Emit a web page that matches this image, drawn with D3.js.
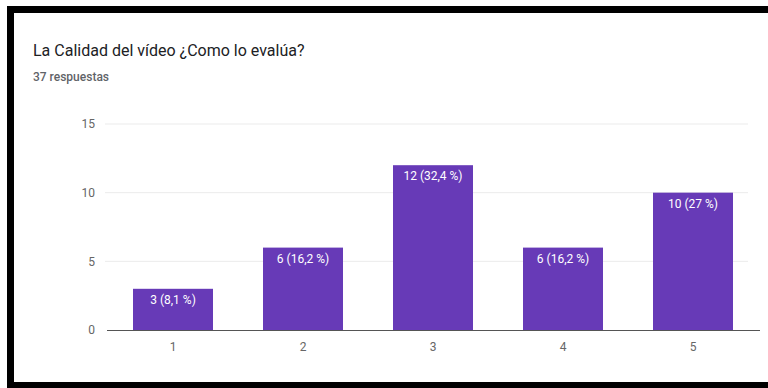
<!DOCTYPE html>
<html>
<head>
<meta charset="utf-8">
<script src="https://cdn.jsdelivr.net/npm/d3@7"></script>
<style>
  body { margin: 0; background: #fff; }
  svg text { font-family: Roboto, "Noto Sans", sans-serif; }
</style>
</head>
<body>
<script>
//Data
var categories = ["1", "2", "3", "4", "5"];
var counts = [3, 6, 12, 6, 10];
var labels = ["3 (8,1 %)", "6 (16,2 %)", "12 (32,4 %)", "6 (16,2 %)", "10 (27 %)"];
var yTicks = [0, 5, 10, 15];

var W = 768, H = 388;

var svg = d3.select("body")
    .append("svg")
    .attr("width", W)
    .attr("height", H);

//black frame (left, top, bottom)
svg.append("rect").attr("x", 7).attr("y", 6).attr("width", W - 7).attr("height", 7).attr("fill", "#000");
svg.append("rect").attr("x", 7).attr("y", 6).attr("width", 7).attr("height", H - 6).attr("fill", "#000");
svg.append("rect").attr("x", 7).attr("y", 382).attr("width", W - 7).attr("height", 6).attr("fill", "#000");

//Title + subtitle
svg.append("text")
    .attr("x", 33)
    .attr("y", 56)
    .style("font-size", "16px")
    .style("fill", "#202124")
    .text("La Calidad del vídeo ¿Como lo evalúa?");
svg.append("text")
    .attr("x", 33)
    .attr("y", 81)
    .style("font-size", "12px")
    .style("font-weight", "500")
    .style("fill", "#5f6368")
    .text("37 respuestas");

//Scales
var xScale = d3.scaleBand()
    .domain(categories)
    .range([108, 758])
    .paddingInner(50 / 130)
    .paddingOuter(25 / 130);

var yScale = d3.scaleLinear()
    .domain([0, 15])
    .range([330, 124]);

//gridlines
svg.append("g")
    .selectAll("line")
    .data(yTicks.filter(function(d){ return d > 0; }))
    .enter().append("line")
    .attr("x1", 105)
    .attr("x2", 748)
    .attr("y1", function(d){ return yScale(d); })
    .attr("y2", function(d){ return yScale(d); })
    .attr("stroke", "#ebebeb")
    .attr("stroke-width", 1);

//y axis labels
var yAxis = d3.axisLeft(yScale).tickValues(yTicks).tickSize(0).tickPadding(0);
var gy = svg.append("g")
    .attr("transform", "translate(95,0)")
    .call(yAxis);
gy.select(".domain").remove();
gy.selectAll("text")
    .style("font-size", "12px")
    .style("font-family", "Roboto, sans-serif")
    .style("fill", "#666");

//bars
svg.selectAll(".bar")
    .data(counts)
    .enter().append("rect")
    .attr("class", "bar")
    .attr("x", function(d, i){ return xScale(categories[i]); })
    .attr("y", function(d){ return yScale(d); })
    .attr("width", xScale.bandwidth())
    .attr("height", function(d){ return yScale(0) - yScale(d); })
    .attr("fill", "#673ab7");

//bar labels
svg.selectAll(".lbl")
    .data(counts)
    .enter().append("text")
    .attr("class", "lbl")
    .attr("x", function(d, i){ return xScale(categories[i]) + xScale.bandwidth() / 2; })
    .attr("y", function(d){ return yScale(d) + 15; })
    .attr("text-anchor", "middle")
    .style("font-size", "12px")
    .style("fill", "#fff")
    .text(function(d, i){ return labels[i]; });

//x axis
var xAxis = d3.axisBottom(xScale).tickSize(0).tickPadding(12);
var gx = svg.append("g")
    .attr("transform", "translate(0," + yScale(0) + ")")
    .call(xAxis);
gx.select(".domain").remove();
gx.selectAll("text")
    .style("font-size", "12px")
    .style("font-family", "Roboto, sans-serif")
    .style("fill", "#666");

//baseline
svg.append("line")
    .attr("x1", 107)
    .attr("x2", 760)
    .attr("y1", yScale(0) + 0.5)
    .attr("y2", yScale(0) + 0.5)
    .attr("stroke", "#555")
    .attr("stroke-width", 1);
</script>
</body>
</html>
